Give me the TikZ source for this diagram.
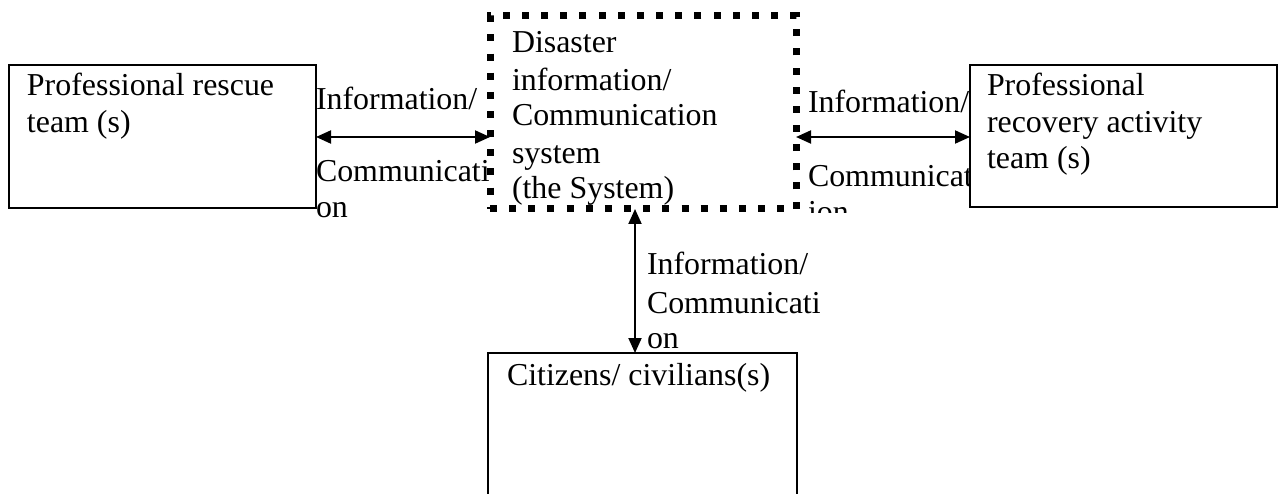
\documentclass[tikz,border=0pt]{standalone}
\usepackage{fontspec}
\setmainfont{Liberation Serif}
\usetikzlibrary{arrows.meta}
\begin{document}
\begin{tikzpicture}[x=1pt,y=-1pt,
  every node/.style={inner sep=0pt,outer sep=0pt},
  txt/.style={anchor=base west,font=\fontsize{31.9}{36.5}\selectfont},
  box/.style={draw,line width=1.6pt},
  sysbox/.style={draw,line width=7pt,dash pattern=on 7pt off 12.15pt},
  link/.style={line width=2pt,{Triangle[length=15pt,width=13pt]}-{Triangle[length=15pt,width=13pt]}}]
\useasboundingbox (0,0) rectangle (1282,494);
\clip (0,0) rectangle (1282,494);
% boxes
\node[box,minimum width=307pt,minimum height=143pt] (rescue) at (162.5,136.5) {};
\node[box,minimum width=307pt,minimum height=142pt] (recovery) at (1123.5,136) {};
\node[box,minimum width=309pt,minimum height=180pt] (cit) at (642.5,443) {};
% texts in boxes
\node[txt] (t1) at (27,96) {Professional rescue};
\node[txt] (t2) at (27,133) {team (s)};
\node[txt] (t3) at (987,96) {Professional};
\node[txt] (t4) at (987,133) {recovery activity};
\node[txt] (t5) at (987,169) {team (s)};
\node[txt] (t6) at (507,385) {Citizens/ civilians(s)};
\node[txt] (s1) at (512,53) {Disaster};
\node[txt] (s2) at (512,91) {information/};
\node[txt] (s3) at (512,126) {Communication};
\node[txt] (s4) at (512,164) {system};
\node[txt] (s5) at (512,199) {(the System)};
% connector labels
\node[txt] (la1) at (316,110) {Information/};
\node[txt] (la2) at (316,182) {Communicati};
\node[txt] (la3) at (316,218) {on};
\begin{scope}
\clip (800,60) rectangle (970,213);
\node[txt] (lb1) at (808,113) {Information/};
\node[txt] (lb2) at (808,187) {Communicat};
\node[txt] (lb3) at (808,223) {ion};
\end{scope}
\node[txt] (lc1) at (647,275) {Information/};
\node[txt] (lc2) at (647,313) {Communicati};
\node[txt] (lc3) at (647,348) {on};
% system box
\node[sysbox,minimum width=306pt,minimum height=193pt] (sys) at (643,112.5) {};
% connectors
\draw[link] (rescue.east |- 0,137) -- (sys.west |- 0,137);
\draw[link] (sys.east |- 0,137) -- (recovery.west |- 0,137);
\draw[link] ([xshift=-8pt]sys.south) -- ([xshift=-7.5pt]cit.north);
\end{tikzpicture}
\end{document}
